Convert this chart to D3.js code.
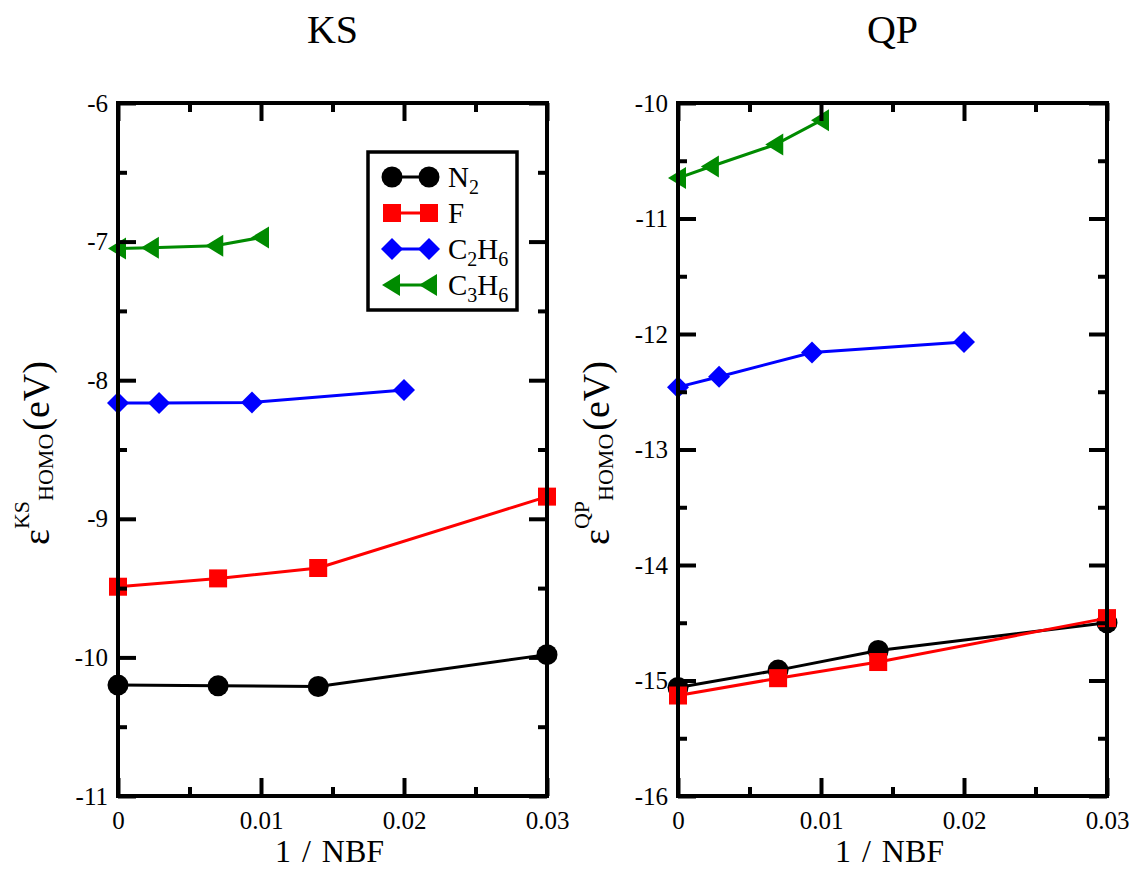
<!DOCTYPE html>
<html>
<head>
<meta charset="utf-8">
<script src="https://cdn.jsdelivr.net/npm/d3@7"></script>
<style>
    body {margin: 0; background: #fff;}
    svg text {font-family: "Liberation Serif", "Times New Roman", Times, serif; fill: #000;}
</style>
</head>
<body>
<svg id="chart" width="1136" height="871"></svg>
<script>
// values
const nbfTicks = [0, 0.01, 0.02, 0.03];
const nbfMinor = [0.005, 0.015, 0.025];

const xN2 = [0, 0.007, 0.014, 0.03];
const xF = [0, 0.007, 0.014, 0.03];
const xC2H6 = [0, 0.00287, 0.00937, 0.02];
const xC3H6 = [0, 0.0023, 0.0068, 0.01];

const ksN2 = [-10.20, -10.205, -10.21, -9.98];
const ksF = [-9.49, -9.43, -9.355, -8.84];
const ksC2H6 = [-8.165, -8.165, -8.16, -8.07];
const ksC3H6 = [-7.05, -7.045, -7.03, -6.97];

const qpN2 = [-15.06, -14.91, -14.74, -14.50];
const qpF = [-15.13, -14.98, -14.84, -14.46];
const qpC2H6 = [-12.46, -12.37, -12.16, -12.07];
const qpC3H6 = [-10.65, -10.55, -10.36, -10.15];

const ksTicks = [-11, -10, -9, -8, -7, -6];
const ksMinor = [-10.5, -9.5, -8.5, -7.5, -6.5];
const qpTicks = [-16, -15, -14, -13, -12, -11, -10];
const qpMinor = [-15.5, -14.5, -13.5, -12.5, -11.5, -10.5];

// legend labels: [text, subscript?]
const legendLabels = [
    [['N', 0], ['2', 1]],
    [['F', 0]],
    [['C', 0], ['2', 1], ['H', 0], ['6', 1]],
    [['C', 0], ['3', 1], ['H', 0], ['6', 1]]
];

const colors = ['#000000', '#ff0000', '#0000ff', '#008b00'];
const shapes = ['circle', 'square', 'diamond', 'triangleLeft'];
const xSeries = [xN2, xF, xC2H6, xC3H6];

const serif = '"Liberation Serif", "Times New Roman", Times, serif';

const panels = [
    {title: 'KS', x0: 118, x1: 547, y0: 103, y1: 796, domain: [-11, -6], ticks: ksTicks, minor: ksMinor,
        ys: [ksN2, ksF, ksC2H6, ksC3H6], labelX: 49, legend: true},
    {title: 'QP', x0: 678, x1: 1107, y0: 103, y1: 796, domain: [-16, -10], ticks: qpTicks, minor: qpMinor,
        ys: [qpN2, qpF, qpC2H6, qpC3H6], labelX: 609, legend: false}
];

const svg = d3.select('#chart');

function marker(sel, shape, color) {
    if (shape === 'circle') {
        sel.append('circle').attr('r', 10.5).attr('fill', color);
    } else if (shape === 'square') {
        sel.append('rect').attr('x', -9).attr('y', -9).attr('width', 18).attr('height', 18).attr('fill', color);
    } else if (shape === 'diamond') {
        sel.append('path').attr('d', 'M0,-11L11,0L0,11L-11,0Z').attr('fill', color);
    } else {
        sel.append('path').attr('d', 'M-10,0L8,-11L8,11Z').attr('fill', color);
    }
}

function drawPanel(p) {
    let x = d3.scaleLinear().domain([0, 0.03]).range([p.x0, p.x1]);
    let y = d3.scaleLinear().domain(p.domain).range([p.y1, p.y0]);
    let g = svg.append('g');

    // series
    let line = d3.line().x(d => x(d[0])).y(d => y(d[1]));
    p.ys.forEach((vals, i) => {
        let pts = xSeries[i].map((v, j) => [v, vals[j]]);
        let s = g.append('g');
        s.append('path').datum(pts)
            .attr('d', line)
            .attr('fill', 'none')
            .attr('stroke', colors[i])
            .attr('stroke-width', 3);
        s.selectAll('g.pt').data(pts).enter()
            .append('g').attr('class', 'pt')
            .attr('transform', d => 'translate(' + x(d[0]) + ',' + y(d[1]) + ')')
            .each(function () { marker(d3.select(this), shapes[i], colors[i]); });
    });

    // axes, ticks on all four sides pointing in
    let fmt = d => String(d);
    let ax = [
        [d3.axisBottom(x).tickValues(nbfTicks).tickSize(-18).tickPadding(15).tickFormat(fmt), 0, p.y1],
        [d3.axisBottom(x).tickValues(nbfMinor).tickSize(-9).tickFormat(''), 0, p.y1],
        [d3.axisTop(x).tickValues(nbfTicks).tickSize(-18).tickFormat(''), 0, p.y0],
        [d3.axisTop(x).tickValues(nbfMinor).tickSize(-9).tickFormat(''), 0, p.y0],
        [d3.axisLeft(y).tickValues(p.ticks).tickSize(-18).tickPadding(10).tickFormat(fmt), p.x0, 0],
        [d3.axisLeft(y).tickValues(p.minor).tickSize(-9).tickFormat(''), p.x0, 0],
        [d3.axisRight(y).tickValues(p.ticks).tickSize(-18).tickFormat(''), p.x1, 0],
        [d3.axisRight(y).tickValues(p.minor).tickSize(-9).tickFormat(''), p.x1, 0]
    ];
    ax.forEach(a => {
        let ag = g.append('g').attr('transform', 'translate(' + a[1] + ',' + a[2] + ')').call(a[0]);
        ag.attr('font-family', null).attr('font-size', null);
        ag.select('.domain').remove();
        ag.selectAll('line').attr('stroke', '#000').attr('stroke-width', 4);
        ag.selectAll('text').style('font-size', '25px').style('font-family', serif).attr('fill', '#000');
    });
    g.append('rect')
        .attr('x', p.x0).attr('y', p.y0)
        .attr('width', p.x1 - p.x0).attr('height', p.y1 - p.y0)
        .attr('fill', 'none').attr('stroke', '#000').attr('stroke-width', 4);

    // titles
    g.append('text').attr('x', (p.x0 + p.x1) / 2).attr('y', 43)
        .attr('text-anchor', 'middle').style('font-family', serif).style('font-size', '40px').text(p.title);
    g.append('text').attr('x', (p.x0 + p.x1) / 2 - 3).attr('y', 862)
        .attr('text-anchor', 'middle').style('font-family', serif).style('font-size', '32px')
        .style('word-spacing', '3px').text('1 / NBF');

    let yl = g.append('text')
        .attr('transform', 'translate(' + p.labelX + ',545) rotate(-90)')
        .style('font-family', serif).style('font-size', '38px');
    yl.append('tspan').text('ε');
    yl.append('tspan').style('font-size', '22px').attr('dy', -20).text(p.title);
    yl.append('tspan').style('font-size', '22px').attr('dy', 24).text('HOMO');
    yl.append('tspan').attr('dx', 3).attr('dy', -4).text('(eV)');

    if (p.legend) drawLegend(g);
}

function drawLegend(g) {
    let lg = g.append('g');
    lg.append('rect').attr('x', 368).attr('y', 152).attr('width', 149).attr('height', 158)
        .attr('fill', '#fff').attr('stroke', '#000').attr('stroke-width', 3.5);
    legendLabels.forEach((lab, i) => {
        let ry = 177 + i * 36;
        lg.append('line').attr('x1', 392).attr('x2', 429).attr('y1', ry).attr('y2', ry)
            .attr('stroke', colors[i]).attr('stroke-width', 3);
        [392, 429].forEach(cx => {
            marker(lg.append('g').attr('transform', 'translate(' + cx + ',' + ry + ')'), shapes[i], colors[i]);
        });
        let t = lg.append('text').attr('x', 448).attr('y', ry + 10)
            .style('font-family', serif).style('font-size', '29px');
        let sub = 0;
        lab.forEach(part => {
            let ts = t.append('tspan').text(part[0]);
            if (part[1] && !sub) { ts.style('font-size', '20px').attr('dy', 7); sub = 1; }
            else if (!part[1] && sub) { ts.attr('dy', -7); sub = 0; }
            else if (part[1]) ts.style('font-size', '20px');
        });
    });
}

panels.forEach(drawPanel);
</script>
</body>
</html>
